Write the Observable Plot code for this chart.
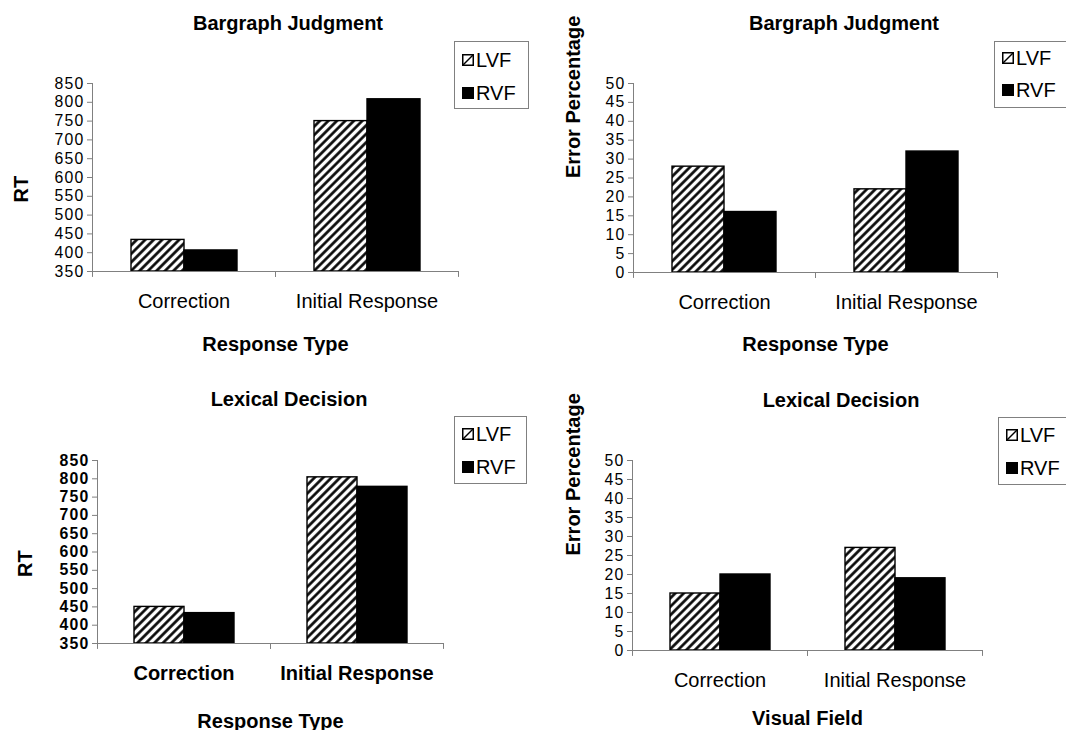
<!DOCTYPE html>
<html>
<head>
<meta charset="utf-8">
<script src="https://cdn.jsdelivr.net/npm/d3@7"></script>
<script src="https://cdn.jsdelivr.net/npm/@observablehq/plot@0.6"></script>
<style>
  html, body { margin: 0; padding: 0; background: #fff; }
  #page { position: relative; width: 1066px; height: 730px; overflow: hidden; font-family: "Liberation Sans", Arial, sans-serif; color: #000; }
  .holder { position: absolute; }
  .holder svg { overflow: visible; }
  .holder svg g[aria-label="y-axis tick label"] text { letter-spacing: 1.2px; }
  .title { position: absolute; font-weight: bold; font-size: 20px; line-height: 20px; white-space: nowrap; transform: translate(-50%, -50%); }
  .legend { position: absolute; border: 1px solid #808080; background: #fff; box-sizing: border-box; }
  .legend .row { position: absolute; left: 7px; display: flex; align-items: center; height: 20px; transform: translateY(-50%); font-size: 20px; line-height: 20px; }
  .legend .row svg { display: block; margin-right: 2px; }
</style>
</head>
<body>
<svg width="0" height="0" style="position:absolute">
  <defs>
    <pattern id="hatch" patternUnits="userSpaceOnUse" width="6" height="6" patternTransform="rotate(45)">
      <rect width="6" height="6" fill="#fff"></rect>
      <line x1="1.5" y1="0" x2="1.5" y2="6" stroke="#000" stroke-width="2.6"></line>
    </pattern>
  </defs>
</svg>
<div id="page"></div>
<script>
// ---------------- data ----------------
const categories = ["Correction", "Initial Response"];
const seriesNames = ["LVF", "RVF"];

const bargraphRT_LVF = [434, 750];
const bargraphRT_RVF = [406, 808];
const bargraphErr_LVF = [28, 22];
const bargraphErr_RVF = [16, 32];
const lexicalRT_LVF = [450, 804];
const lexicalRT_RVF = [433, 778];
const lexicalErr_LVF = [15, 27];
const lexicalErr_RVF = [20, 19];

const rtTicks = [350, 400, 450, 500, 550, 600, 650, 700, 750, 800, 850];
const errTicks = [0, 5, 10, 15, 20, 25, 30, 35, 40, 45, 50];

const titles = ["Bargraph Judgment", "Bargraph Judgment", "Lexical Decision", "Lexical Decision"];
const yTitles = ["RT", "Error Percentage", "RT", "Error Percentage"];
const xTitles = ["Response Type", "Response Type", "Response Type", "Visual Field"];

// ---------------- layout / style ----------------
const FONT = "Liberation Sans, Arial, sans-serif";
const AXIS = "#808080";

const panels = [
  { lvf: bargraphRT_LVF, rvf: bargraphRT_RVF, ticks: rtTicks, title: titles[0], yTitle: yTitles[0], xTitle: xTitles[0],
    left: 0, top: 0, width: 540, height: 365, mL: 91, mR: 82, mT: 83, mB: 94,
    titleX: 288, titleY: 23, yDx: -71, yDy: 25, xOff: 79, bold: false,
    legend: { left: 454, top: 41, width: 75, height: 68, r1: 18, r2: 51 } },
  { lvf: bargraphErr_LVF, rvf: bargraphErr_RVF, ticks: errTicks, title: titles[1], yTitle: yTitles[1], xTitle: xTitles[1],
    left: 540, top: 0, width: 526, height: 365, mL: 92, mR: 69, mT: 83, mB: 93,
    titleX: 844, titleY: 23, yDx: -60, yDy: 0, xOff: 78, bold: false,
    legend: { left: 994, top: 41, width: 90, height: 67, r1: 16, r2: 48 } },
  { lvf: lexicalRT_LVF, rvf: lexicalRT_RVF, ticks: rtTicks, title: titles[2], yTitle: yTitles[2], xTitle: xTitles[2],
    left: 0, top: 370, width: 540, height: 360, mL: 96, mR: 97, mT: 90, mB: 87,
    titleX: 289, titleY: 399, yDx: -72, yDy: 25, xOff: 84, bold: true,
    legend: { left: 454, top: 416, width: 73, height: 68, r1: 17, r2: 50 } },
  { lvf: lexicalErr_LVF, rvf: lexicalErr_RVF, ticks: errTicks, title: titles[3], yTitle: yTitles[3], xTitle: xTitles[3],
    left: 540, top: 370, width: 526, height: 360, mL: 92, mR: 84, mT: 90, mB: 80,
    titleX: 841, titleY: 400, yDx: -59, yDy: 0, xOff: 74, bold: false,
    legend: { left: 998, top: 417, width: 90, height: 68, r1: 17, r2: 50 } }
];

const tickShape = { draw(context, l) { context.moveTo(0, 0); context.lineTo(0, -l); } };

const page = document.getElementById("page");

function swatch(name) {
  const ns = "http://www.w3.org/2000/svg";
  const s = document.createElementNS(ns, "svg");
  s.setAttribute("width", 12); s.setAttribute("height", 12);
  if (name === "LVF") {
    s.innerHTML = '<rect x="0.75" y="0.75" width="10.5" height="10.5" fill="#fff" stroke="#000" stroke-width="1.5"/>' +
                  '<line x1="1" y1="11" x2="11" y2="1" stroke="#000" stroke-width="1.5"/>';
  } else {
    s.innerHTML = '<rect x="0" y="0" width="12" height="12" fill="#000"/>';
  }
  return s;
}

for (const p of panels) {
  const table = categories.flatMap((c, i) => [
    { category: c, series: seriesNames[0], value: p.lvf[i] },
    { category: c, series: seriesNames[1], value: p.rvf[i] }
  ]);
  const domain = [p.ticks[0], p.ticks[p.ticks.length - 1]];
  const weight = p.bold ? "bold" : "normal";

  const chart = Plot.plot({
    width: p.width, height: p.height,
    marginLeft: p.mL, marginRight: p.mR, marginTop: p.mT, marginBottom: p.mB,
    style: { fontFamily: FONT, background: "transparent", overflow: "visible", color: "#000" },
    fx: { domain: categories, padding: 0, label: null },
    x: { domain: seriesNames, paddingInner: 0, paddingOuter: 0.724, axis: null },
    y: { domain },
    color: { domain: seriesNames, range: ["url(#hatch)", "#000"] },
    marks: [
      Plot.barY(table, { fx: "category", x: "series", y1: domain[0], y2: "value", fill: "series", stroke: "#000", strokeWidth: 1.4 }),
      Plot.frame({ anchor: "left", facetAnchor: "left", stroke: AXIS, strokeWidth: 1 }),
      Plot.frame({ anchor: "bottom", stroke: AXIS, strokeWidth: 1 }),
      Plot.vector([0], { frameAnchor: "bottom-left", length: 5, rotate: 180, anchor: "start", shape: tickShape, stroke: AXIS, strokeWidth: 1 }),
      Plot.vector([0], { frameAnchor: "bottom-right", length: 5, rotate: 180, anchor: "start", shape: tickShape, stroke: AXIS, strokeWidth: 1 }),
      Plot.axisY({ ticks: p.ticks, tickSize: 5, tickPadding: 3, stroke: AXIS, strokeOpacity: 1, fill: "#000", fontSize: 15.8, fontWeight: weight, label: null, tickFormat: d => String(d) }),
      Plot.axisFx({ anchor: "bottom", tickSize: 0, tickPadding: 22, fill: "#000", fontSize: 20, fontWeight: weight, label: null }),
      Plot.axisFx({ anchor: "bottom", ticks: [], tickSize: 0, label: p.xTitle, labelAnchor: "center", labelArrow: false, labelOffset: p.xOff, fill: "#000", fontSize: 20, fontWeight: "bold" }),
      Plot.text([p.yTitle], { frameAnchor: "left", facetAnchor: "left", rotate: -90, dx: p.yDx, dy: p.yDy, fill: "#000", fontSize: 20, fontWeight: "bold" })
    ]
  });

  const holder = document.createElement("div");
  holder.className = "holder";
  holder.style.left = p.left + "px";
  holder.style.top = p.top + "px";
  holder.style.width = p.width + "px";
  holder.style.height = p.height + "px";
  holder.appendChild(chart);
  page.appendChild(holder);

  const t = document.createElement("div");
  t.className = "title";
  t.style.left = p.titleX + "px";
  t.style.top = p.titleY + "px";
  t.textContent = p.title;
  page.appendChild(t);

  const lg = document.createElement("div");
  lg.className = "legend";
  lg.style.left = p.legend.left + "px";
  lg.style.top = p.legend.top + "px";
  lg.style.width = p.legend.width + "px";
  lg.style.height = p.legend.height + "px";
  seriesNames.forEach((name, i) => {
    const row = document.createElement("div");
    row.className = "row";
    row.style.top = (i === 0 ? p.legend.r1 : p.legend.r2) + "px";
    row.appendChild(swatch(name));
    const span = document.createElement("span");
    span.textContent = name;
    row.appendChild(span);
    lg.appendChild(row);
  });
  page.appendChild(lg);
}
</script>
</body>
</html>
